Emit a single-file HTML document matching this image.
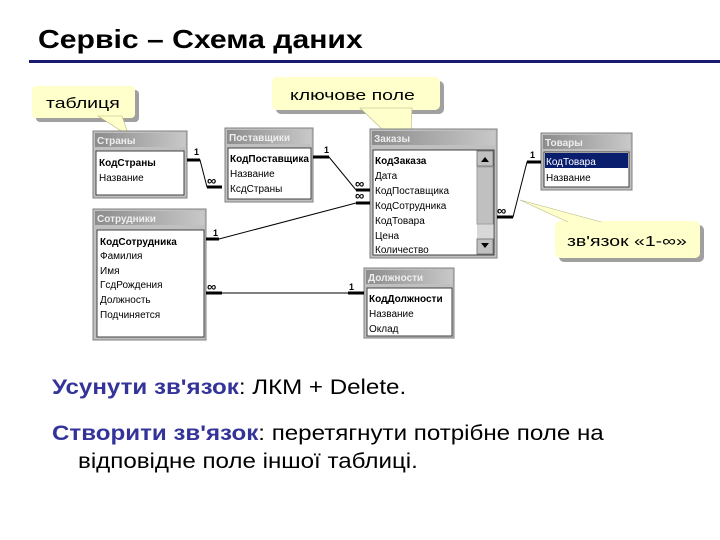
<!DOCTYPE html>
<html><head><meta charset="utf-8"><style>
html,body{margin:0;padding:0;background:#fff;}
svg{display:block}
text{font-family:"Liberation Sans",sans-serif}
</style></head><body>
<svg width="720" height="540" viewBox="0 0 720 540" xmlns="http://www.w3.org/2000/svg">
<defs>
<linearGradient id="tb" x1="0" x2="1"><stop offset="0" stop-color="#8c8c8c"/><stop offset="1" stop-color="#c8c8c8"/></linearGradient>
</defs>
<text transform="translate(38,48) scale(1.16,1)" font-size="26" font-weight="bold" fill="#000">Сервіс – Схема даних</text>
<rect x="29" y="60" width="691" height="3" fill="#1a1a6e"/>

<!-- callout таблиця -->
<rect x="36" y="90" width="103" height="32" rx="4" fill="#a0a0a0"/>
<rect x="32" y="86" width="103" height="32" rx="4" fill="#ffffcc"/>
<polygon points="98,116 122,116 129,136" fill="#ffffcc" stroke="#b8b880" stroke-width="0.6"/>
<text transform="translate(46,108) scale(1.3,1)" font-size="15" fill="#000">таблиця</text>

<!-- callout ключове поле -->
<rect x="276" y="81" width="168" height="33" rx="5" fill="#a0a0a0"/>
<rect x="272" y="77" width="168" height="33" rx="5" fill="#ffffcc"/>
<polygon points="360,108 412,108 410,156" fill="#ffffcc" stroke="#b8b880" stroke-width="0.6"/>
<text transform="translate(290,100) scale(1.3,1)" font-size="15" fill="#000">ключове поле</text>

<g font-size="10">
<!-- Страны -->
<rect x="93" y="131" width="94" height="67" fill="#c0c0c0" stroke="#808080"/>
<rect x="95" y="133" width="90" height="14" fill="url(#tb)"/>
<text x="97" y="144" fill="#eee" font-weight="bold">Страны</text>
<rect x="96" y="151" width="88" height="44" fill="#fff" stroke="#404040"/>
<text x="99" y="166" font-weight="bold">КодСтраны</text>
<text x="99" y="181">Название</text>

<!-- Поставщики -->
<rect x="225" y="128" width="88" height="74" fill="#c0c0c0" stroke="#808080"/>
<rect x="227" y="130" width="84" height="14" fill="url(#tb)"/>
<text x="229" y="141" fill="#eee" font-weight="bold">Поставщики</text>
<rect x="228" y="148" width="83" height="51" fill="#fff" stroke="#404040"/>
<text x="230" y="162" font-weight="bold">КодПоставщика</text>
<text x="230" y="177">Название</text>
<text x="230" y="192">КсдСтраны</text>

<!-- Заказы -->
<rect x="370" y="129" width="127" height="129" fill="#c0c0c0" stroke="#808080"/>
<rect x="372" y="131" width="123" height="14" fill="url(#tb)"/>
<text x="374" y="142" fill="#eee" font-weight="bold">Заказы</text>
<rect x="373" y="150" width="121" height="105" fill="#fff" stroke="#404040"/>
<rect x="477" y="151" width="16" height="103" fill="#d8d8d8"/>
<rect x="477" y="151" width="16" height="15" fill="#c0c0c0" stroke="#808080"/>
<rect x="477" y="239" width="16" height="15" fill="#c0c0c0" stroke="#808080"/>
<polygon points="481,162 489,162 485,157" fill="#000"/>
<polygon points="481,243 489,243 485,248" fill="#000"/>
<rect x="477" y="167" width="16" height="57" fill="#c0c0c0" stroke="#a0a0a0"/>
<text x="375" y="164" font-weight="bold">КодЗаказа</text>
<text x="375" y="179">Дата</text>
<text x="375" y="194">КодПоставщика</text>
<text x="375" y="209">КодСотрудника</text>
<text x="375" y="224">КодТовара</text>
<text x="375" y="239">Цена</text>
<text x="375" y="253">Количество</text>

<!-- Товары -->
<rect x="541" y="133" width="91" height="57" fill="#c0c0c0" stroke="#808080"/>
<rect x="543" y="135" width="87" height="14" fill="url(#tb)"/>
<text x="545" y="146" fill="#eee" font-weight="bold">Товары</text>
<rect x="544" y="152" width="85" height="35" fill="#fff" stroke="#404040"/>
<rect x="545" y="153" width="83" height="15" fill="#0a1e6e"/>
<text x="546" y="165" fill="#fff">КодТовара</text>
<text x="546" y="181">Название</text>

<!-- Сотрудники -->
<rect x="93" y="209" width="113" height="131" fill="#c0c0c0" stroke="#808080"/>
<rect x="95" y="211" width="109" height="14" fill="url(#tb)"/>
<text x="97" y="222" fill="#eee" font-weight="bold">Сотрудники</text>
<rect x="97" y="230" width="107" height="107" fill="#fff" stroke="#404040"/>
<text x="100" y="245" font-weight="bold">КодСотрудника</text>
<text x="100" y="259">Фамилия</text>
<text x="100" y="274">Имя</text>
<text x="100" y="288">ГсдРождения</text>
<text x="100" y="303">Должность</text>
<text x="100" y="318">Подчиняется</text>

<!-- Должности -->
<rect x="364" y="268" width="90" height="70" fill="#c0c0c0" stroke="#808080"/>
<rect x="366" y="270" width="86" height="14" fill="url(#tb)"/>
<text x="368" y="281" fill="#eee" font-weight="bold">Должности</text>
<rect x="367" y="288" width="85" height="48" fill="#fff" stroke="#404040"/>
<text x="369" y="302" font-weight="bold">КодДолжности</text>
<text x="369" y="317">Название</text>
<text x="369" y="332">Оклад</text>
</g>

<!-- connectors -->
<g stroke="#000" fill="none">
<path d="M187,160 H200 L207,187 H222" stroke-width="1"/>
<path d="M187,160 H200 M207,187 H222" stroke-width="3"/>
<path d="M313,157 H329 L356,190 H370" stroke-width="1"/>
<path d="M313,157 H329 M356,190 H370" stroke-width="3"/>
<path d="M206,239 H219 L356,203 H370" stroke-width="1"/>
<path d="M206,239 H219 M356,203 H370" stroke-width="3"/>
<path d="M206,293 H364" stroke-width="1"/>
<path d="M206,293 H222 M348,293 H364" stroke-width="3"/>
<path d="M497,217 H513 L527,162 H541" stroke-width="1"/>
<path d="M497,217 H513 M527,162 H541" stroke-width="3"/>
</g>
<g font-size="13" font-weight="bold" fill="#000">
<text x="207" y="185">∞</text>
<text x="355" y="188">∞</text>
<text x="355" y="200">∞</text>
<text x="207" y="291">∞</text>
<text x="497" y="215">∞</text>
</g>
<g font-size="9" font-weight="bold" fill="#000">
<text x="194" y="155">1</text>
<text x="324" y="153">1</text>
<text x="213" y="236">1</text>
<text x="349" y="290">1</text>
<text x="530" y="158">1</text>
</g>

<!-- callout зв'язок -->
<rect x="559" y="225" width="145" height="37" rx="5" fill="#a0a0a0"/>
<rect x="555" y="221" width="145" height="37" rx="5" fill="#ffffcc"/>
<polygon points="520,200 570,223 605,223" fill="#ffffcc" stroke="#b8b880" stroke-width="0.6"/>
<rect x="566" y="222" width="45" height="5" fill="#ffffcc"/>
<text transform="translate(567,246) scale(1.3,1)" font-size="15" fill="#000">зв'язок «1-∞»</text>

<text transform="translate(52,394) scale(1.15,1)" font-size="21" fill="#000"><tspan fill="#333399" font-weight="bold">Усунути зв'язок</tspan>: ЛКМ + Delete.</text>
<text transform="translate(52,440) scale(1.15,1)" font-size="21" fill="#000"><tspan fill="#333399" font-weight="bold">Створити зв'язок</tspan>: перетягнути потрібне поле на</text>
<text transform="translate(78,468) scale(1.15,1)" font-size="21" fill="#000">відповідне поле іншої таблиці.</text>
</svg>
</body></html>
